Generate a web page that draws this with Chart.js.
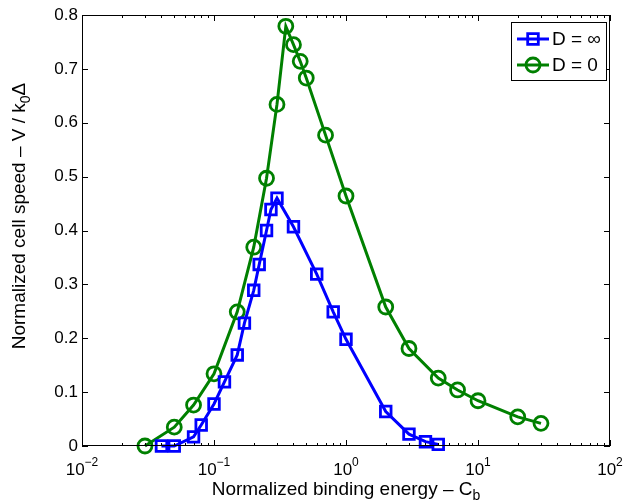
<!DOCTYPE html>
<html lang="en">
<head>
<meta charset="UTF-8">
<title>Cell speed vs binding energy</title>
<script src="https://cdn.jsdelivr.net/npm/chart.js"></script>
<style>
  html, body { margin: 0; padding: 0; background: #fff; }
  canvas { display: block; }
</style>
</head>
<body>
<canvas id="speedChart" width="626" height="502"></canvas>
<script>
// D = infinity series
const energyInf = [0.04, 0.05, 0.07, 0.08, 0.1, 0.12, 0.15, 0.17, 0.2, 0.22, 0.25, 0.27, 0.3, 0.4, 0.6, 0.8, 1, 2, 3, 4, 5];
const speedInf  = [0, 0, 0.017, 0.039, 0.078, 0.119, 0.169, 0.228, 0.289, 0.337, 0.400, 0.439, 0.460, 0.407, 0.319, 0.249, 0.198, 0.064, 0.022, 0.008, 0.003];

// D = 0 series
const energyZero = [0.03, 0.05, 0.07, 0.1, 0.15, 0.2, 0.25, 0.3, 0.35, 0.4, 0.45, 0.5, 0.7, 1, 2, 3, 5, 7, 10, 20, 30];
const speedZero  = [0, 0.035, 0.076, 0.134, 0.249, 0.369, 0.497, 0.634, 0.779, 0.745, 0.714, 0.683, 0.577, 0.464, 0.258, 0.181, 0.126, 0.104, 0.084, 0.054, 0.042];

const seriesNames = ['D = \u221E', 'D = 0'];

// axis ticks
const xDecades = [0.01, 0.1, 1, 10, 100];
const xExponents = ['\u22122', '\u22121', '0', '1', '2'];
const yTicks = [0, 0.1, 0.2, 0.3, 0.4, 0.5, 0.6, 0.7, 0.8];
const yTickLabels = ['0', '0.1', '0.2', '0.3', '0.4', '0.5', '0.6', '0.7', '0.8'];

const xTitle = ['Normalized binding energy \u2013 C', 'b'];
const yTitle = ['Normalized cell speed \u2013 V / k', '0', '\u0394'];

const FONT = '"Liberation Sans", Arial, Helvetica, sans-serif';

function toPoints(xs, ys) {
    return xs.map((x, i) => ({ x: x, y: ys[i] }));
}

// minor ticks at 2..9 inside each decade
function minorTicks() {
    const out = [];
    for (let i = 0; i < xDecades.length - 1; i++) {
        for (let k = 2; k <= 9; k++) out.push(xDecades[i] * k);
    }
    return out;
}

// box, inward ticks, log tick labels and axis titles
const axesDecor = {
    id: 'axesDecor',
    afterDatasetsDraw(chart) {
        const ctx = chart.ctx;
        const a = chart.chartArea;
        const xs = chart.scales.x;
        const ys = chart.scales.y;
        ctx.save();
        ctx.strokeStyle = '#000';
        ctx.lineWidth = 1;
        ctx.strokeRect(a.left + 0.5, a.top + 0.5, a.right - a.left - 1, a.bottom - a.top - 1);

        ctx.beginPath();
        xDecades.forEach(v => {
            const px = Math.round(xs.getPixelForValue(v)) + 0.5;
            ctx.moveTo(px, a.bottom); ctx.lineTo(px, a.bottom - 6);
            ctx.moveTo(px, a.top); ctx.lineTo(px, a.top + 6);
        });
        minorTicks().forEach(v => {
            const px = Math.round(xs.getPixelForValue(v)) + 0.5;
            ctx.moveTo(px, a.bottom); ctx.lineTo(px, a.bottom - 3);
            ctx.moveTo(px, a.top); ctx.lineTo(px, a.top + 3);
        });
        yTicks.forEach(v => {
            const py = Math.round(ys.getPixelForValue(v)) + 0.5;
            ctx.moveTo(a.left, py); ctx.lineTo(a.left + 6, py);
            ctx.moveTo(a.right, py); ctx.lineTo(a.right - 6, py);
        });
        ctx.stroke();

        // 10^n labels under the x axis
        ctx.fillStyle = '#000';
        ctx.textBaseline = 'alphabetic';
        ctx.textAlign = 'left';
        xDecades.forEach((v, i) => {
            const px = xs.getPixelForValue(v);
            ctx.font = '17px ' + FONT;
            const wBase = ctx.measureText('10').width;
            ctx.font = '12px ' + FONT;
            const wExp = ctx.measureText(xExponents[i]).width;
            const x0 = px - (wBase + wExp) / 2;
            ctx.font = '17px ' + FONT;
            ctx.fillText('10', x0, a.bottom + 29);
            ctx.font = '12px ' + FONT;
            ctx.fillText(xExponents[i], x0 + wBase, a.bottom + 20);
        });

        // x title with subscript
        ctx.font = '19px ' + FONT;
        const wMain = ctx.measureText(xTitle[0]).width;
        ctx.font = '14px ' + FONT;
        const wSub = ctx.measureText(xTitle[1]).width;
        const tx = (a.left + a.right) / 2 - (wMain + wSub) / 2;
        ctx.font = '19px ' + FONT;
        ctx.fillText(xTitle[0], tx, 495);
        ctx.font = '14px ' + FONT;
        ctx.fillText(xTitle[1], tx + wMain, 500);

        // y title, rotated, with subscript
        ctx.translate(25, 216);
        ctx.rotate(-Math.PI / 2);
        ctx.font = '19px ' + FONT;
        const w1 = ctx.measureText(yTitle[0]).width;
        const w3 = ctx.measureText(yTitle[2]).width;
        ctx.font = '14px ' + FONT;
        const w2 = ctx.measureText(yTitle[1]).width;
        let cx = -(w1 + w2 + w3) / 2;
        ctx.font = '19px ' + FONT;
        ctx.fillText(yTitle[0], cx, 0);
        cx += w1;
        ctx.font = '14px ' + FONT;
        ctx.fillText(yTitle[1], cx, 5);
        cx += w2;
        ctx.font = '19px ' + FONT;
        ctx.fillText(yTitle[2], cx, 0);
        ctx.restore();
    },
    afterDraw(chart) {
        // boxed legend in the upper right corner
        const ctx = chart.ctx;
        const a = chart.chartArea;
        const box = { left: a.right - 99, top: a.top + 7, w: 95, h: 58 };
        ctx.save();
        ctx.fillStyle = '#fff';
        ctx.fillRect(box.left, box.top, box.w, box.h);
        ctx.strokeStyle = '#000';
        ctx.lineWidth = 1;
        ctx.strokeRect(box.left + 0.5, box.top + 0.5, box.w, box.h);
        chart.data.datasets.forEach((ds, i) => {
            const y = box.top + 17 + i * 26;
            const x1 = box.left + 6, x2 = box.left + 38;
            ctx.strokeStyle = ds.borderColor;
            ctx.lineWidth = ds.borderWidth;
            ctx.beginPath();
            ctx.moveTo(x1, y); ctx.lineTo(x2, y);
            ctx.stroke();
            ctx.lineWidth = ds.pointBorderWidth;
            ctx.fillStyle = 'rgba(0,0,0,0)';
            Chart.helpers.drawPoint(ctx, {
                pointStyle: ds.pointStyle,
                radius: ds.pointRadius,
                rotation: 0,
                borderWidth: ds.pointBorderWidth
            }, (x1 + x2) / 2, y);
            ctx.fillStyle = '#000';
            ctx.font = '19px ' + FONT;
            ctx.textBaseline = 'middle';
            ctx.fillText(ds.label, x2 + 3, y + 1);
        });
        ctx.restore();
    }
};

new Chart(document.getElementById('speedChart'), {
    type: 'line',
    data: {
        datasets: [{
            label: seriesNames[0],
            data: toPoints(energyInf, speedInf),
            borderColor: '#0000ff',
            borderWidth: 3,
            pointStyle: 'rect',
            pointRadius: 7.5,
            pointBorderWidth: 2.8,
            pointBorderColor: '#0000ff',
            pointBackgroundColor: 'rgba(0,0,0,0)',
            clip: false
        }, {
            label: seriesNames[1],
            data: toPoints(energyZero, speedZero),
            borderColor: '#008000',
            borderWidth: 3,
            pointStyle: 'circle',
            pointRadius: 7,
            pointBorderWidth: 2.8,
            pointBorderColor: '#008000',
            pointBackgroundColor: 'rgba(0,0,0,0)',
            clip: false
        }]
    },
    options: {
        responsive: false,
        animation: false,
        devicePixelRatio: 1,
        layout: { padding: { top: 15, right: 16, left: 0, bottom: 0 } },
        plugins: { legend: { display: false }, tooltip: { enabled: false } },
        scales: {
            x: {
                type: 'logarithmic',
                min: 0.01,
                max: 100,
                grid: { display: false, drawTicks: false },
                border: { display: false },
                ticks: { display: false },
                afterFit(scale) { scale.height = 56; }
            },
            y: {
                type: 'linear',
                min: 0,
                max: 0.8,
                grid: { display: false, drawTicks: false },
                border: { display: false },
                afterBuildTicks(scale) { scale.ticks = yTicks.map(v => ({ value: v })); },
                ticks: {
                    padding: 4,
                    color: '#000',
                    font: { family: FONT, size: 17 },
                    callback: (v, i) => yTickLabels[i]
                },
                afterFit(scale) { scale.width = 82; }
            }
        }
    },
    plugins: [axesDecor]
});
</script>
</body>
</html>
